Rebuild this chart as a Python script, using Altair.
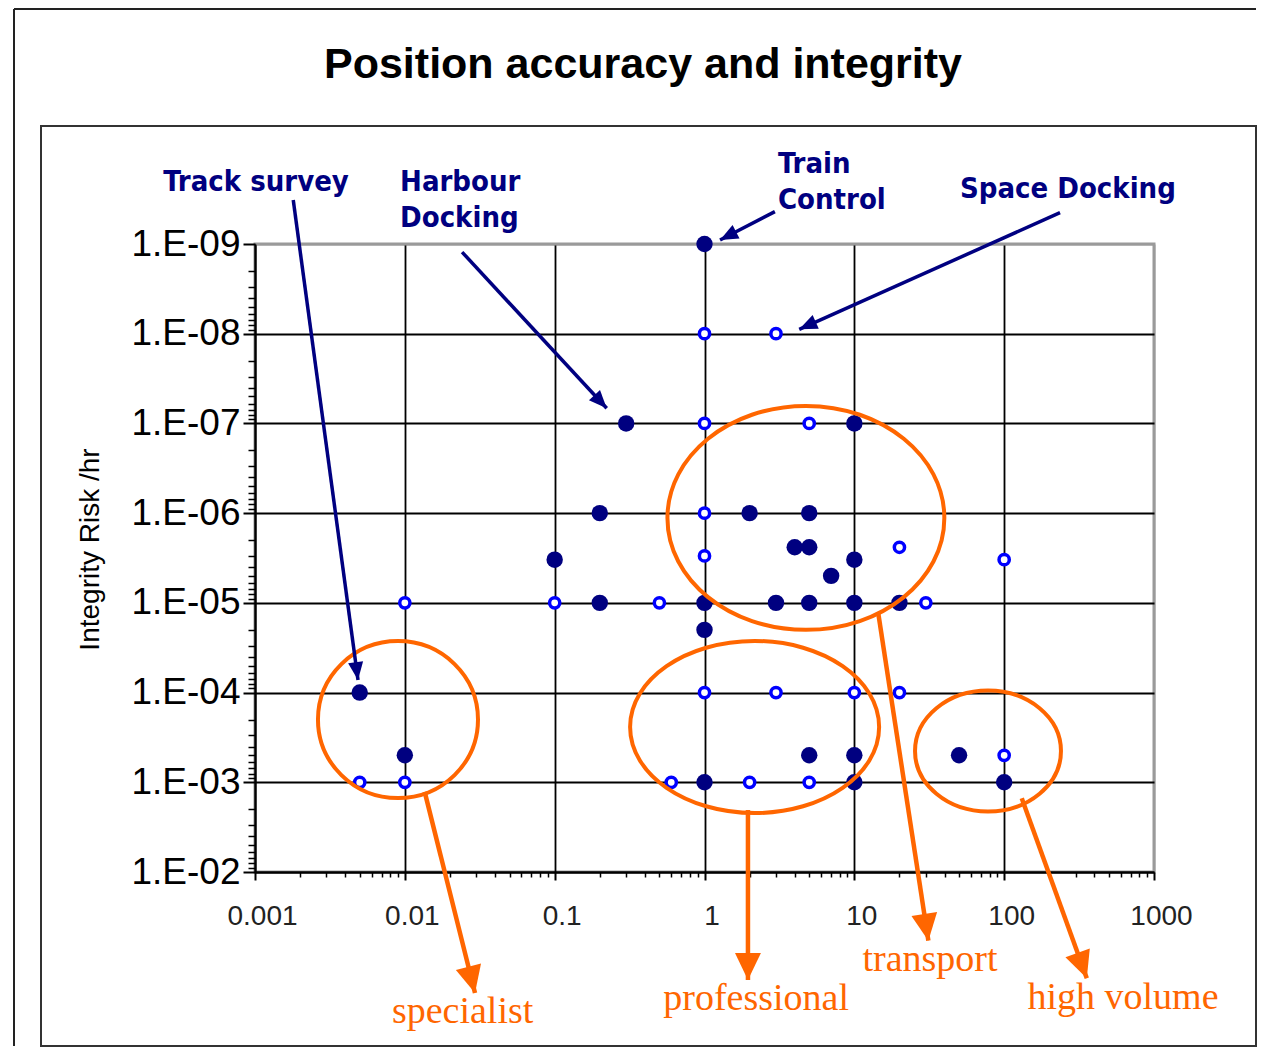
import math
import altair as alt
import pandas as pd

# ---------------- data ----------------
filled_x = [1, 0.3, 10, 0.2, 2, 5, 0.1, 4, 5, 10, 7, 0.2, 1, 3, 5, 10, 20, 1,
            0.005, 0.01, 5, 10, 50, 1, 10, 100]
filled_y = [1e-9, 1e-7, 1e-7, 1e-6, 1e-6, 1e-6, 3.3e-6, 2.4e-6, 2.4e-6, 3.3e-6, 5e-6,
            1e-5, 1e-5, 1e-5, 1e-5, 1e-5, 1e-5, 2e-5,
            1e-4, 5e-4, 5e-4, 5e-4, 5e-4, 1e-3, 1e-3, 1e-3]

open_x = [1, 3, 1, 5, 1, 1, 20, 100, 0.01, 0.1, 0.5, 30, 1, 3, 10, 20,
          0.005, 0.01, 0.6, 2, 5, 100]
open_y = [1e-8, 1e-8, 1e-7, 1e-7, 1e-6, 3e-6, 2.4e-6, 3.3e-6, 1e-5, 1e-5, 1e-5, 1e-5,
          1e-4, 1e-4, 1e-4, 1e-4, 1e-3, 1e-3, 1e-3, 1e-3, 1e-3, 5e-4]

x_ticks = [0.001, 0.01, 0.1, 1, 10, 100, 1000]
x_tick_labels = ["0.001", "0.01", "0.1", "1", "10", "100", "1000"]
y_ticks = [1e-9, 1e-8, 1e-7, 1e-6, 1e-5, 1e-4, 1e-3, 1e-2]
y_tick_labels = ["1.E-09", "1.E-08", "1.E-07", "1.E-06", "1.E-05", "1.E-04", "1.E-03", "1.E-02"]
minor_steps = [2, 3, 4, 5, 6, 7, 8, 9]

title_text = "Position accuracy and integrity"
y_title = "Integrity Risk /hr"

# navy call-outs (text lines: left edge / baseline, in data units)
note_text = ["Track survey", "Harbour", "Docking", "Train", "Control", "Space Docking"]
note_x = [2.44e-4, 0.00929, 0.00929, 3.09, 3.09, 50.7]
note_y = [2.57e-10, 2.57e-10, 6.46e-10, 1.63e-10, 4.07e-10, 3.1e-10]

note_arrow_x1 = [0.0018, 0.0241, 2.95, 236]
note_arrow_y1 = [3.24e-10, 1.23e-9, 4.36e-10, 4.48e-10]
note_arrow_x2 = [0.00487, 0.2225, 1.27, 4.29]
note_arrow_y2 = [7.24e-5, 6.78e-8, 9.02e-10, 8.93e-9]

# orange groups
group_text = ["specialist", "professional", "transport", "high volume"]
group_text_x = [0.0243, 2.21, 32, 621]
group_text_y = [0.483, 0.346, 0.126, 0.337]
group_cx = [0.0090, 2.16, 4.75, 78]
group_cy = [2.0e-4, 2.42e-4, 1.13e-6, 4.48e-4]
group_rx_decades = [0.534, 0.831, 0.924, 0.487]
group_ry_decades = [0.875, 0.959, 1.248, 0.674]
group_arrow_x1 = [0.01357, 1.95, 14.45, 131]
group_arrow_y1 = [1.28e-3, 2.04e-3, 1.31e-5, 1.51e-3]
group_arrow_x2 = [0.0294, 1.95, 31.2, 356]
group_arrow_y2 = [0.223, 0.16, 0.0583, 0.153]

# ---------------- styling ----------------
W, H = 899, 628
PX = W / 6.0   # pixels per decade (x)
PY = H / 7.0   # pixels per decade (y)
NAVY = "#000080"
BLUE = "#0000FF"
ORANGE = "#FF6600"

x_minor = [m * 10 ** d for d in range(-3, 3) for m in minor_steps]
y_minor = [m * 10 ** d for d in range(-9, -2) for m in minor_steps]


def label_expr(values, labels):
    parts = [f"datum.value < {v * 3.1623:.6g} ? '{l}'" for v, l in zip(values[:-1], labels[:-1])]
    return " : ".join(parts) + f" : '{labels[-1]}'"


def ellipse_path(a):
    k = 0.5523
    return (f"M1,0 C1,{k*a:.4f} {k:.4f},{a:.4f} 0,{a:.4f} "
            f"C{-k:.4f},{a:.4f} -1,{k*a:.4f} -1,0 "
            f"C-1,{-k*a:.4f} {-k:.4f},{-a:.4f} 0,{-a:.4f} "
            f"C{k:.4f},{-a:.4f} 1,{-k*a:.4f} 1,0 Z")


def head_angle(x1, y1, x2, y2):
    dx = (math.log10(x2) - math.log10(x1)) * PX
    dy = (math.log10(y2) - math.log10(y1)) * PY
    return math.degrees(math.atan2(dx, -dy)) % 360


HEAD_PATH_NAVY = "M0,0 L0.42,1 L-0.42,1 Z"
HEAD_PATH_ORANGE = "M0,0 L0.48,1 L-0.48,1 Z"

filled_df = pd.DataFrame({"x": filled_x, "y": filled_y})
open_df = pd.DataFrame({"x": open_x, "y": open_y})
note_df = pd.DataFrame({"x": note_x, "y": note_y, "t": note_text})
group_df = pd.DataFrame({"x": group_text_x, "y": group_text_y, "t": group_text})

ell_df = pd.DataFrame({
    "x": group_cx, "y": group_cy,
    "shape": [ellipse_path((ry * PY) / (rx * PX)) for rx, ry in zip(group_rx_decades, group_ry_decades)],
    "size": [4 * (rx * PX) ** 2 for rx in group_rx_decades],
})

note_arr = pd.DataFrame({"x": note_arrow_x1, "y": note_arrow_y1,
                         "x2": note_arrow_x2, "y2": note_arrow_y2})
note_arr["angle"] = [head_angle(*r) for r in zip(note_arrow_x1, note_arrow_y1, note_arrow_x2, note_arrow_y2)]
grp_arr = pd.DataFrame({"x": group_arrow_x1, "y": group_arrow_y1,
                        "x2": group_arrow_x2, "y2": group_arrow_y2})
grp_arr["angle"] = [head_angle(*r) for r in zip(group_arrow_x1, group_arrow_y1, group_arrow_x2, group_arrow_y2)]

xscale = alt.Scale(type="log", domain=[0.001, 1000], nice=False)
yscale = alt.Scale(type="log", domain=[1e-9, 1e-2], nice=False, reverse=True)

x_axis_major = alt.Axis(
    values=x_ticks, labelExpr=label_expr(x_ticks, x_tick_labels), orient="bottom",
    grid=True, gridColor={"condition": {"test": "datum.value > 500", "value": "#9a9a9a"}, "value": "black"},
    gridWidth=1.8, domainColor="black", domainWidth=2, tickColor="black", tickWidth=2, tickSize=8,
    labelFont="Liberation Sans", labelFontSize=28, labelColor="#222222", labelPadding=22,
    labelOffset=7, labelFlush=False, labelOverlap=False, title=None)
y_axis_major = alt.Axis(
    values=y_ticks, labelExpr=label_expr(y_ticks, y_tick_labels), orient="left",
    grid=True, gridColor={"condition": {"test": "datum.value < 2e-9", "value": "#9a9a9a"}, "value": "black"},
    gridWidth=1.8, domainColor="black", domainWidth=2, tickColor="black", tickWidth=2, tickSize=12,
    labelFont="Liberation Sans", labelFontSize=37, labelColor="black", labelPadding=3,
    labelFlush=False, labelOverlap=False,
    title=y_title, titleFont="Liberation Sans", titleFontSize=28, titleFontWeight="normal",
    titleColor="black", titleAngle=270, titleX=-165, titleY=305, titleAlign="center",
    titleBaseline="middle")
x_axis_minor = alt.Axis(values=x_minor, labels=False, ticks=True, tickSize=5, tickWidth=1.5,
                        tickColor="black", domain=False, grid=False, title=None, orient="bottom")
y_axis_minor = alt.Axis(values=y_minor, labels=False, ticks=True, tickSize=7, tickWidth=1.5,
                        tickColor="black", domain=False, grid=False, title=None, orient="left")

one = pd.DataFrame({"a": [0]})

frame_inner = alt.Chart(one).mark_rect(fill=None, stroke="#333333", strokeWidth=2).encode(
    x=alt.value(-214), x2=alt.value(1001), y=alt.value(-118), y2=alt.value(802))
frame_left = alt.Chart(one).mark_rule(color="#222222", strokeWidth=2).encode(
    x=alt.value(-241), y=alt.value(-235), y2=alt.value(802))
frame_top = alt.Chart(one).mark_rule(color="#222222", strokeWidth=2).encode(
    x=alt.value(-241), x2=alt.value(1001), y=alt.value(-235))

filled_layer = alt.Chart(filled_df).mark_point(
    shape="circle", filled=True, size=270, color=NAVY, opacity=1).encode(
    x=alt.X("x:Q", scale=xscale, axis=x_axis_major),
    y=alt.Y("y:Q", scale=yscale, axis=y_axis_major))

open_layer = alt.Chart(open_df).mark_point(
    shape="circle", size=105, fill="white", stroke=BLUE, strokeWidth=3.5, opacity=1,
    fillOpacity=1).encode(
    x=alt.X("x:Q", scale=xscale, axis=x_axis_minor),
    y=alt.Y("y:Q", scale=yscale, axis=y_axis_minor))

ell_layer = alt.Chart(ell_df).mark_point(
    filled=False, stroke=ORANGE, strokeWidth=4, opacity=1).encode(
    x=alt.X("x:Q", scale=xscale, axis=None),
    y=alt.Y("y:Q", scale=yscale, axis=None),
    shape=alt.Shape("shape:N", scale=None),
    size=alt.Size("size:Q", scale=None))

note_lines = alt.Chart(note_arr).mark_rule(color=NAVY, strokeWidth=3.5).encode(
    x=alt.X("x:Q", scale=xscale, axis=None), y=alt.Y("y:Q", scale=yscale, axis=None),
    x2="x2:Q", y2="y2:Q")
note_heads = alt.Chart(note_arr).mark_point(
    shape=HEAD_PATH_NAVY, filled=True, color=NAVY, opacity=1, size=(2 * 18) ** 2).encode(
    x=alt.X("x2:Q", scale=xscale, axis=None), y=alt.Y("y2:Q", scale=yscale, axis=None),
    angle=alt.Angle("angle:Q", scale=None))

grp_lines = alt.Chart(grp_arr).mark_rule(color=ORANGE, strokeWidth=4.5).encode(
    x=alt.X("x:Q", scale=xscale, axis=None), y=alt.Y("y:Q", scale=yscale, axis=None),
    x2="x2:Q", y2="y2:Q")
grp_heads = alt.Chart(grp_arr).mark_point(
    shape=HEAD_PATH_ORANGE, filled=True, color=ORANGE, opacity=1, size=(2 * 27) ** 2).encode(
    x=alt.X("x2:Q", scale=xscale, axis=None), y=alt.Y("y2:Q", scale=yscale, axis=None),
    angle=alt.Angle("angle:Q", scale=None))

note_labels = alt.Chart(note_df).mark_text(
    align="left", baseline="alphabetic", font="DejaVu Sans Condensed, DejaVu Sans",
    fontWeight="bold", fontSize=29, color=NAVY).encode(
    x=alt.X("x:Q", scale=xscale, axis=None), y=alt.Y("y:Q", scale=yscale, axis=None),
    text="t:N")

group_labels = alt.Chart(group_df).mark_text(
    align="center", baseline="alphabetic", font="Liberation Serif",
    fontSize=38, color=ORANGE).encode(
    x=alt.X("x:Q", scale=xscale, axis=None), y=alt.Y("y:Q", scale=yscale, axis=None),
    text="t:N")

title_layer = alt.Chart(pd.DataFrame({"t": [title_text]})).mark_text(
    align="center", baseline="alphabetic", font="Liberation Sans",
    fontWeight="bold", fontSize=43, color="black").encode(
    x=alt.value(388), y=alt.value(-166), text="t:N")

chart = alt.layer(
    frame_inner, frame_left, frame_top,
    filled_layer, open_layer, ell_layer,
    note_lines, note_heads, grp_lines, grp_heads,
    note_labels, group_labels, title_layer,
).resolve_axis(x="independent", y="independent").properties(
    width=W, height=H,
    autosize=alt.AutoSizeParams(type="none"),
    padding={"left": 247, "top": 236, "right": 103, "bottom": 175},
    background="white",
).configure_view(stroke="#9a9a9a", strokeWidth=3)

chart.save("out.html", embed_options={"renderer": "svg", "actions": False})
